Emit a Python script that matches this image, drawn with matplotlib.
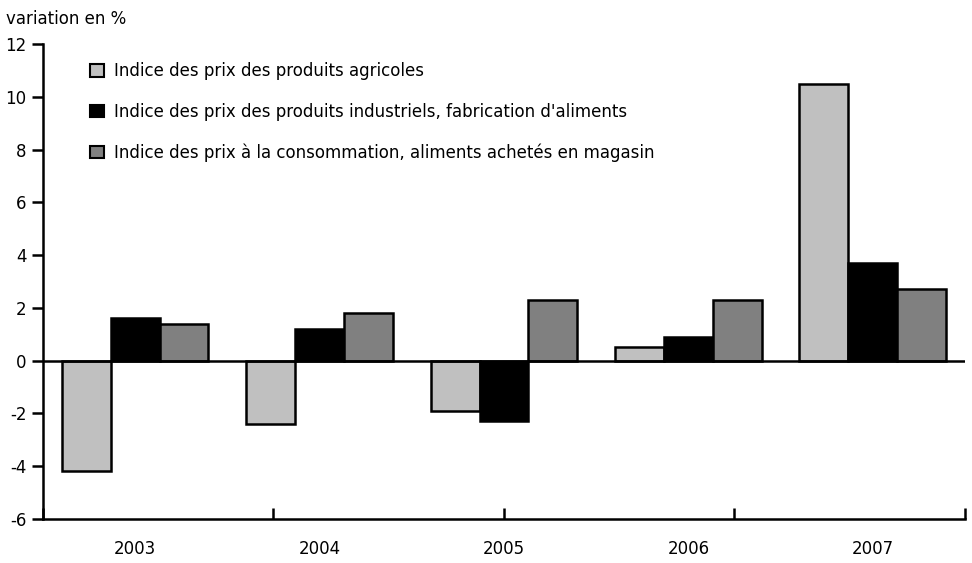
import matplotlib
matplotlib.use("Agg")
import matplotlib.pyplot as plt
import numpy as np
from matplotlib.patches import Patch

plt.rcParams["font.family"] = ["DejaVu Sans"]
plt.rcParams["axes.unicode_minus"] = False

annees = ["2003", "2004", "2005", "2006", "2007"]
agricoles = [-4.2, -2.4, -1.9, 0.5, 10.5]
industriels = [1.6, 1.2, -2.3, 0.9, 3.7]
consommation = [1.4, 1.8, 2.3, 2.3, 2.7]

series = [
    ("Indice des prix des produits agricoles", agricoles, "#c0c0c0"),
    ("Indice des prix des produits industriels, fabrication d'aliments", industriels, "#000000"),
    ("Indice des prix à la consommation, aliments achetés en magasin", consommation, "#808080"),
]

fig = plt.figure(figsize=(9.72, 5.63), dpi=100)
ax = fig.add_axes([0.0442, 0.0782, 0.9486, 0.8436])

x = np.arange(len(annees))
largeur = 0.265
for i, (nom, vals, couleur) in enumerate(series):
    ax.bar(x + (i - 1) * largeur, vals, largeur, color=couleur,
           edgecolor="black", linewidth=1.8, label=nom, zorder=3)

ax.axhline(0, color="black", linewidth=1.8, zorder=4)

ax.set_xlim(-0.5, len(annees) - 0.5)
ax.set_ylim(-6, 12)
ax.set_yticks(np.arange(-6, 13, 2))
ax.tick_params(axis="y", direction="out", length=8, width=1.8, labelsize=12, pad=4)

# graduations de l'axe x : traits en majeur, années en mineur
ax.xaxis.remove_overlapping_locs = False
ax.set_xticks(np.linspace(-0.5, len(annees) - 0.5, 5))
ax.set_xticklabels([])
ax.tick_params(axis="x", which="major", direction="in", length=8, width=1.8)
ax.set_xticks(x, minor=True)
ax.set_xticklabels(annees, minor=True)
ax.tick_params(axis="x", which="minor", length=0, labelsize=12, pad=15)

for s in ["top", "right"]:
    ax.spines[s].set_visible(False)
for s in ["left", "bottom"]:
    ax.spines[s].set_linewidth(1.8)

poignees = [Patch(facecolor=c, edgecolor="black", linewidth=1.5) for _, _, c in series]
ax.legend(poignees, [n for n, _, _ in series], loc="upper left",
          bbox_to_anchor=(0.086, 0.901), bbox_transform=fig.transFigure,
          frameon=False, fontsize=12, handlelength=0.8, handleheight=0.8,
          handletextpad=0.6, labelspacing=1.35, borderaxespad=0)

fig.text(0.006, 0.967, "variation en %", fontsize=12, va="center", ha="left")

fig.savefig("out.png", dpi=100)
